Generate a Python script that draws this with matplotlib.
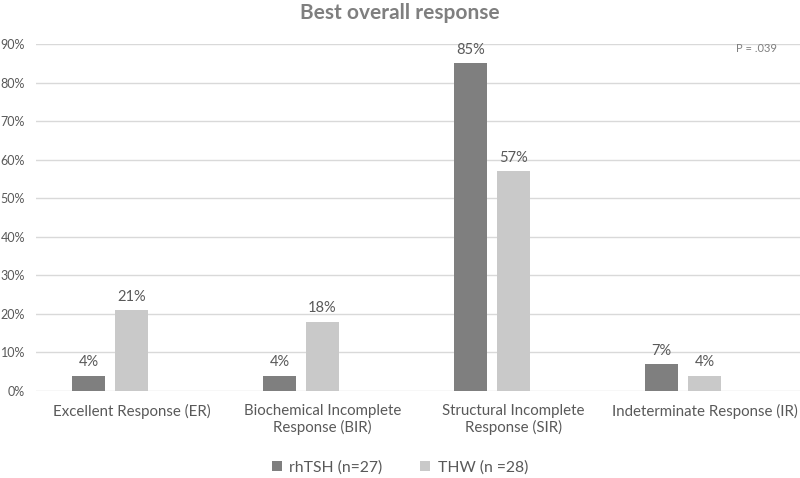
import numpy as np
import matplotlib.pyplot as plt

categories = ["Excellent Response (ER)", "Biochemical Incomplete\nResponse (BIR)",
              "Structural Incomplete\nResponse (SIR)", "Indeterminate Response (IR)"]
rhtsh = [4, 4, 85, 7]
thw = [21, 18, 57, 4]
series_names = ["rhTSH (n=27)", "THW (n =28)"]

plt.rcParams['font.family'] = ['Lato', 'DejaVu Sans']

fig = plt.figure(figsize=(8, 4.78), dpi=100)
ax = fig.add_axes([0.045, 0.182, 0.955, 0.726])

x = np.arange(len(categories))
width = 0.173
off = 0.225
b1 = ax.bar(x - off, rhtsh, width, color="#7f7f7f", label=series_names[0], zorder=3)
b2 = ax.bar(x, thw, width, color="#c9c9c9", label=series_names[1], zorder=3)

for bars in (b1, b2):
    for r in bars:
        ax.text(r.get_x() + r.get_width() / 2, r.get_height() + 1.6, f"{r.get_height():.0f}%",
                ha="center", va="bottom", fontsize=10.5, color="#595959")

ax.set_xlim(-0.5, 3.5)
ax.set_ylim(0, 90)
ax.set_yticks(range(0, 91, 10))
ax.set_yticklabels([f"{v}%" for v in range(0, 91, 10)])
ax.set_xticks(x)
ax.set_xticklabels(categories)
ax.tick_params(axis="both", length=0, colors="#595959")
ax.tick_params(axis="x", pad=9, labelsize=10.8)
ax.tick_params(axis="y", labelsize=9, pad=8)
ax.grid(axis="y", color="#d9d9d9", linewidth=1, zorder=0)
for s in ax.spines.values():
    s.set_visible(False)

fig.text(0.5, 0.972, "Best overall response", ha="center", va="center",
         fontsize=15, fontweight="bold", color="#7f7f7f")
fig.text(0.92, 0.899, "P = .039", ha="left", va="center", fontsize=8, color="#7f7f7f")

fig.legend(loc="center", bbox_to_anchor=(0.5, 0.022), ncol=2, frameon=False,
           fontsize=11.3, labelcolor="#595959", handlelength=0.65, handleheight=0.65,
           handletextpad=0.45, columnspacing=2.4)

fig.savefig("out.png", dpi=100)
